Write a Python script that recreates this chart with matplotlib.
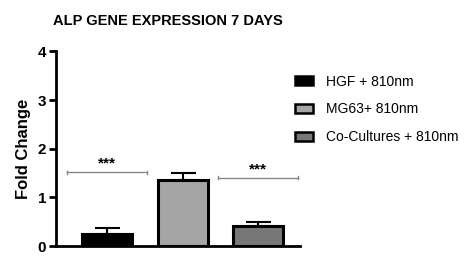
import matplotlib
matplotlib.use("Agg")
import matplotlib.pyplot as plt
from matplotlib.patches import Patch

plt.rcParams['font.family'] = ['Liberation Sans', 'DejaVu Sans']

labels = ["HGF + 810nm", "MG63+ 810nm", "Co-Cultures + 810nm"]
values = [0.24, 1.35, 0.42]
errors = [0.12, 0.16, 0.08]
colors = ["#000000", "#a5a5a5", "#777777"]
sig_text = "***"

fig = plt.figure(figsize=(4.74, 2.59), dpi=100)
ax = fig.add_axes([56/474, 1-246/259, (300-56)/474, (246-51.5)/259])

x = [0, 1, 2]
ax.bar(x, values, width=0.66, color=colors, edgecolor="black", linewidth=2.2, zorder=3)
for xi, v, e in zip(x, values, errors):
    ax.errorbar(xi, v, yerr=[[0], [e]], fmt='none', ecolor='black', elinewidth=1.5,
                capsize=9, capthick=1.5, zorder=2)

# significance lines
ax.plot([-0.53, 0.53], [1.52, 1.52], color="#888888", lw=1.0, zorder=1)
for xe in (-0.53, 0.53):
    ax.plot([xe, xe], [1.49, 1.55], color="#888888", lw=1.0)
ax.text(0.0, 1.56, sig_text, ha='center', va='bottom', fontsize=11, fontweight='bold')
ax.plot([1.47, 2.53], [1.40, 1.40], color="#888888", lw=1.0, zorder=1)
for xe in (1.47, 2.53):
    ax.plot([xe, xe], [1.37, 1.43], color="#888888", lw=1.0)
ax.text(2.0, 1.44, sig_text, ha='center', va='bottom', fontsize=11, fontweight='bold')

ax.set_xlim(-0.67, 2.55)
ax.set_ylim(0, 4)
ax.set_yticks([0, 1, 2, 3, 4])
ax.set_xticks([])
for s in ["top", "right"]:
    ax.spines[s].set_visible(False)
for s in ["left", "bottom"]:
    ax.spines[s].set_linewidth(2.0)
ax.tick_params(axis='y', width=2.0, length=5, labelsize=11, pad=2)
for t in ax.get_yticklabels():
    t.set_fontweight('bold')
ax.set_ylabel("Fold Change", fontsize=12, fontweight='bold', labelpad=5)

fig.text(168/474, 1-21/259, "ALP GENE EXPRESSION 7 DAYS", ha='center', va='center',
         fontsize=10.5, fontweight='bold')

handles = [Patch(facecolor=c, edgecolor='black', linewidth=1.8) for c in colors]
fig.legend(handles, labels, loc='upper left', bbox_to_anchor=(282/474, 1-62/259),
           frameon=False, fontsize=10, handlelength=1.3, handleheight=0.55,
           labelspacing=1.0, handletextpad=1.0)

fig.savefig("out.png", dpi=100)
